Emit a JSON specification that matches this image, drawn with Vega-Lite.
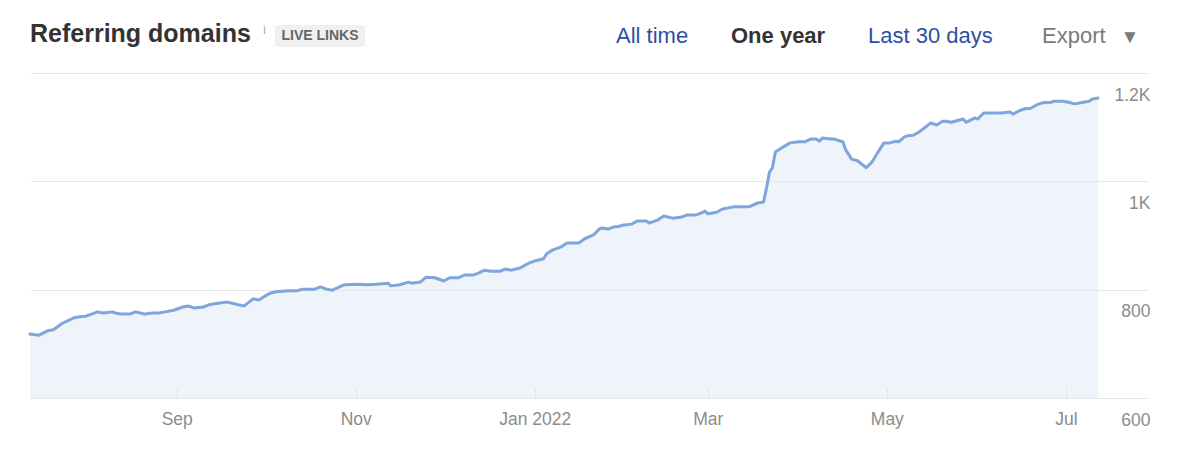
{
  "$schema": "https://vega.github.io/schema/vega-lite/v6.json",
  "width": 1118,
  "height": 325,
  "autosize": {"type": "none"},
  "padding": {"left": 30, "top": 73, "right": 34, "bottom": 62},
  "background": "white",
  "config": {
    "view": {"stroke": null},
    "font": "Liberation Sans",
    "axis": {"labelFont": "Liberation Sans", "labelColor": "#8c8c8c", "labelFontSize": 17.5, "title": null}
  },
  "data": {"values": [
    {"date": "2021-07-13", "value": 718}, {"date": "2021-07-16", "value": 716}, {"date": "2021-07-19", "value": 724},
    {"date": "2021-07-21", "value": 726}, {"date": "2021-07-24", "value": 738}, {"date": "2021-07-28", "value": 748},
    {"date": "2021-07-30", "value": 750}, {"date": "2021-08-01", "value": 751}, {"date": "2021-08-03", "value": 755},
    {"date": "2021-08-05", "value": 759}, {"date": "2021-08-07", "value": 757}, {"date": "2021-08-10", "value": 759},
    {"date": "2021-08-11", "value": 757}, {"date": "2021-08-13", "value": 755}, {"date": "2021-08-16", "value": 755},
    {"date": "2021-08-18", "value": 759}, {"date": "2021-08-21", "value": 755}, {"date": "2021-08-24", "value": 757},
    {"date": "2021-08-26", "value": 757}, {"date": "2021-08-28", "value": 759}, {"date": "2021-08-31", "value": 762},
    {"date": "2021-09-03", "value": 768}, {"date": "2021-09-05", "value": 770}, {"date": "2021-09-07", "value": 766},
    {"date": "2021-09-10", "value": 768}, {"date": "2021-09-12", "value": 772}, {"date": "2021-09-15", "value": 775},
    {"date": "2021-09-18", "value": 777}, {"date": "2021-09-20", "value": 775}, {"date": "2021-09-22", "value": 772},
    {"date": "2021-09-24", "value": 770}, {"date": "2021-09-27", "value": 783}, {"date": "2021-09-29", "value": 781},
    {"date": "2021-10-01", "value": 788}, {"date": "2021-10-03", "value": 794}, {"date": "2021-10-05", "value": 796},
    {"date": "2021-10-09", "value": 798}, {"date": "2021-10-12", "value": 798}, {"date": "2021-10-14", "value": 801},
    {"date": "2021-10-18", "value": 801}, {"date": "2021-10-20", "value": 805}, {"date": "2021-10-22", "value": 801},
    {"date": "2021-10-24", "value": 799}, {"date": "2021-10-28", "value": 809}, {"date": "2021-11-02", "value": 810},
    {"date": "2021-11-05", "value": 809}, {"date": "2021-11-08", "value": 810}, {"date": "2021-11-12", "value": 812},
    {"date": "2021-11-13", "value": 807}, {"date": "2021-11-16", "value": 809}, {"date": "2021-11-19", "value": 814},
    {"date": "2021-11-20", "value": 812}, {"date": "2021-11-23", "value": 814}, {"date": "2021-11-25", "value": 823},
    {"date": "2021-11-28", "value": 822}, {"date": "2021-12-01", "value": 816}, {"date": "2021-12-03", "value": 822},
    {"date": "2021-12-06", "value": 822}, {"date": "2021-12-08", "value": 827}, {"date": "2021-12-11", "value": 827},
    {"date": "2021-12-13", "value": 831}, {"date": "2021-12-15", "value": 836}, {"date": "2021-12-17", "value": 834},
    {"date": "2021-12-20", "value": 834}, {"date": "2021-12-22", "value": 838}, {"date": "2021-12-24", "value": 836},
    {"date": "2021-12-27", "value": 840}, {"date": "2021-12-30", "value": 849}, {"date": "2022-01-01", "value": 853},
    {"date": "2022-01-04", "value": 857}, {"date": "2022-01-05", "value": 866}, {"date": "2022-01-07", "value": 873},
    {"date": "2022-01-10", "value": 879}, {"date": "2022-01-12", "value": 886}, {"date": "2022-01-16", "value": 886},
    {"date": "2022-01-18", "value": 894}, {"date": "2022-01-21", "value": 901}, {"date": "2022-01-23", "value": 912},
    {"date": "2022-01-24", "value": 914}, {"date": "2022-01-26", "value": 912}, {"date": "2022-01-28", "value": 916},
    {"date": "2022-01-29", "value": 916}, {"date": "2022-01-31", "value": 919}, {"date": "2022-02-03", "value": 921},
    {"date": "2022-02-05", "value": 927}, {"date": "2022-02-08", "value": 927}, {"date": "2022-02-09", "value": 923},
    {"date": "2022-02-12", "value": 929}, {"date": "2022-02-14", "value": 936}, {"date": "2022-02-17", "value": 932},
    {"date": "2022-02-20", "value": 934}, {"date": "2022-02-22", "value": 938}, {"date": "2022-02-25", "value": 938},
    {"date": "2022-02-27", "value": 942}, {"date": "2022-02-28", "value": 945}, {"date": "2022-03-01", "value": 940},
    {"date": "2022-03-04", "value": 943}, {"date": "2022-03-06", "value": 949}, {"date": "2022-03-08", "value": 951},
    {"date": "2022-03-10", "value": 953}, {"date": "2022-03-13", "value": 953}, {"date": "2022-03-15", "value": 953},
    {"date": "2022-03-18", "value": 960}, {"date": "2022-03-20", "value": 962}, {"date": "2022-03-21", "value": 988},
    {"date": "2022-03-22", "value": 1017}, {"date": "2022-03-23", "value": 1025}, {"date": "2022-03-24", "value": 1054},
    {"date": "2022-03-26", "value": 1061}, {"date": "2022-03-29", "value": 1071}, {"date": "2022-04-01", "value": 1073},
    {"date": "2022-04-03", "value": 1073}, {"date": "2022-04-05", "value": 1078}, {"date": "2022-04-07", "value": 1078},
    {"date": "2022-04-08", "value": 1074}, {"date": "2022-04-09", "value": 1080}, {"date": "2022-04-12", "value": 1078},
    {"date": "2022-04-13", "value": 1078}, {"date": "2022-04-16", "value": 1073}, {"date": "2022-04-17", "value": 1058},
    {"date": "2022-04-19", "value": 1041}, {"date": "2022-04-21", "value": 1038}, {"date": "2022-04-24", "value": 1025},
    {"date": "2022-04-26", "value": 1036}, {"date": "2022-04-28", "value": 1054}, {"date": "2022-04-30", "value": 1071},
    {"date": "2022-05-02", "value": 1071}, {"date": "2022-05-04", "value": 1074}, {"date": "2022-05-05", "value": 1073},
    {"date": "2022-05-07", "value": 1082}, {"date": "2022-05-08", "value": 1084}, {"date": "2022-05-10", "value": 1085},
    {"date": "2022-05-12", "value": 1091}, {"date": "2022-05-16", "value": 1108}, {"date": "2022-05-18", "value": 1104},
    {"date": "2022-05-20", "value": 1111}, {"date": "2022-05-21", "value": 1111}, {"date": "2022-05-23", "value": 1109},
    {"date": "2022-05-27", "value": 1115}, {"date": "2022-05-28", "value": 1109}, {"date": "2022-05-31", "value": 1117},
    {"date": "2022-06-01", "value": 1115}, {"date": "2022-06-03", "value": 1126}, {"date": "2022-06-06", "value": 1126},
    {"date": "2022-06-09", "value": 1126}, {"date": "2022-06-12", "value": 1128}, {"date": "2022-06-13", "value": 1124},
    {"date": "2022-06-15", "value": 1130}, {"date": "2022-06-17", "value": 1134}, {"date": "2022-06-19", "value": 1135},
    {"date": "2022-06-21", "value": 1141}, {"date": "2022-06-23", "value": 1145}, {"date": "2022-06-26", "value": 1146},
    {"date": "2022-06-27", "value": 1148}, {"date": "2022-06-30", "value": 1148}, {"date": "2022-07-02", "value": 1146},
    {"date": "2022-07-04", "value": 1143}, {"date": "2022-07-07", "value": 1146}, {"date": "2022-07-09", "value": 1148},
    {"date": "2022-07-10", "value": 1152}, {"date": "2022-07-12", "value": 1154}
  ]},
  "layer": [
    {
      "mark": {"type": "area", "color": "#dfe8f5", "opacity": 0.5},
      "encoding": {
        "x": {
          "field": "date", "type": "temporal",
          "scale": {"type": "utc", "domain": ["2021-07-13", "2022-07-29"]},
          "axis": {
            "grid": false, "domain": false, "ticks": true, "tickSize": -10, "tickColor": "#dddddd",
            "values": ["2021-09-01", "2021-11-01", "2022-01-01", "2022-03-01", "2022-05-01", "2022-07-01"],
            "labelPadding": 22, "labelOverlap": false, "labelFlush": false,
            "labelExpr": "utcFormat(datum.value, '%m') == '01' ? utcFormat(datum.value, '%b %Y') : utcFormat(datum.value, '%b')"
          }
        },
        "y": {
          "field": "value", "type": "quantitative",
          "scale": {"domain": [600, 1200], "nice": false, "zero": false},
          "axis": {
            "orient": "right", "values": [600, 800, 1000, 1200], "grid": true, "gridColor": "#e6e6e6",
            "domain": false, "ticks": false, "labelAlign": "right", "labelPadding": 2, "labelOffset": 22,
            "labelBaseline": "middle",
            "labelExpr": "datum.value >= 1000 ? format(datum.value / 1000, '.1~f') + 'K' : datum.label"
          }
        },
        "y2": {"datum": 600}
      }
    },
    {
      "mark": {"type": "line", "color": "#7ea5dc", "strokeWidth": 3, "strokeCap": "round", "strokeJoin": "round"},
      "encoding": {
        "x": {"field": "date", "type": "temporal"},
        "y": {"field": "value", "type": "quantitative"}
      }
    },
    {
      "data": {"values": [{}]},
      "layer": [
        {"mark": {"type": "text", "text": "Referring domains", "x": 0, "y": -31, "fontSize": 25, "fontWeight": "bold", "color": "#333333", "align": "left", "baseline": "alphabetic"}, "encoding": {}},
        {"mark": {"type": "text", "text": "i", "x": 233, "y": -43, "fontSize": 13, "color": "#aaaaaa", "align": "left", "baseline": "middle"}, "encoding": {}},
        {"mark": {"type": "rect", "x": 245, "x2": 335, "y": -48, "y2": -26, "color": "#f0f0f0", "cornerRadius": 3}, "encoding": {}},
        {"mark": {"type": "text", "text": "LIVE LINKS", "x": 290, "y": -37, "fontSize": 14, "fontWeight": "bold", "color": "#666666", "align": "center", "baseline": "middle"}, "encoding": {}},
        {"mark": {"type": "text", "text": "All time", "x": 586, "y": -37, "fontSize": 22, "color": "#2f4fa2", "align": "left", "baseline": "middle"}, "encoding": {}},
        {"mark": {"type": "rule", "x": 678, "y": -51, "y2": -23, "color": "#e8e8e8", "strokeWidth": 1}, "encoding": {}},
        {"mark": {"type": "text", "text": "One year", "x": 701, "y": -37, "fontSize": 22, "fontWeight": "bold", "color": "#333333", "align": "left", "baseline": "middle"}, "encoding": {}},
        {"mark": {"type": "rule", "x": 815, "y": -51, "y2": -23, "color": "#e8e8e8", "strokeWidth": 1}, "encoding": {}},
        {"mark": {"type": "text", "text": "Last 30 days", "x": 838, "y": -37, "fontSize": 22, "color": "#2f4fa2", "align": "left", "baseline": "middle"}, "encoding": {}},
        {"mark": {"type": "text", "text": "Export", "x": 1012, "y": -37, "fontSize": 22, "color": "#7a7a7a", "align": "left", "baseline": "middle"}, "encoding": {}},
        {"mark": {"type": "text", "text": "▼", "x": 1100, "y": -36, "fontSize": 19, "color": "#7a7a7a", "align": "center", "baseline": "middle"}, "encoding": {}}
      ]
    }
  ]
}
